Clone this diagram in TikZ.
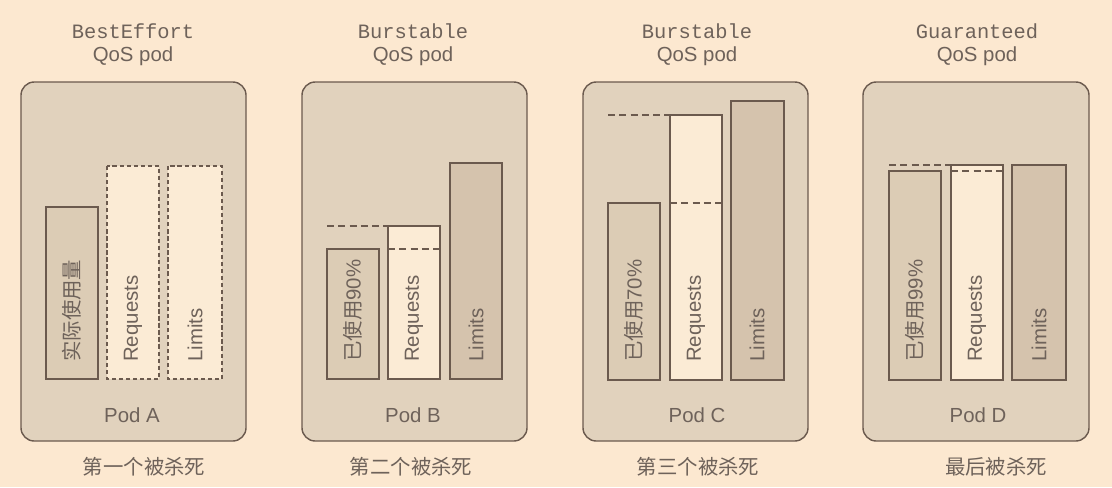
\documentclass[tikz,border=0pt]{standalone}
\usepackage{fontspec}
\setmainfont{Liberation Sans}
\newfontfamily\cjk{Noto Sans CJK SC}
\newfontfamily\mono{Liberation Mono}
\definecolor{bgpeach}{HTML}{FCE8D0}
\definecolor{podfill}{HTML}{E1D2BD}
\definecolor{usedfill}{HTML}{DCCCB5}
\definecolor{reqfill}{HTML}{FBEBD5}
\definecolor{limfill}{HTML}{D5C3AD}
\definecolor{inkline}{HTML}{6B5A4E}
\definecolor{inktext}{HTML}{6E625A}
\tikzset{
  txt/.style={font=\fontsize{14.5}{17}\selectfont, text=inktext, inner sep=0pt},
  podbox/.style={draw=inkline, line width=1pt, fill=podfill, rounded corners=0.33cm},
  usedbar/.style={draw=inkline, line width=1pt, fill=usedfill},
  reqbar/.style={draw=inkline, line width=1pt, fill=reqfill},
  limbar/.style={draw=inkline, line width=1pt, fill=limfill},
  emptybar/.style={draw=inkline, line width=1pt, fill=reqfill, dash pattern=on 3pt off 2pt},
  level/.style={draw=inkline, line width=1pt, dash pattern=on 5pt off 3pt},
  vlabel/.style={txt, rotate=90, anchor=west}
}
\begin{document}
\begin{tikzpicture}[x=0.025cm, y=-0.025cm]

\fill[bgpeach] (0, 0) rectangle (1112, 487);
\useasboundingbox (0, 0) rectangle (1112, 487);

% Pod A
\node[txt] (titleA) at (133, 31) {\mono BestEffort};
\node[txt] (qosA) at (133, 56) {QoS pod};
\draw[podbox] (21, 82) rectangle (246, 441);
\draw[usedbar] (46, 207) rectangle (98, 379);
\draw[emptybar] (107, 166) rectangle (159, 379);
\draw[emptybar] (168, 166) rectangle (222, 379);
\node[vlabel] (usedA) at (72, 362) {\cjk 实际使用量};
\node[vlabel] (reqA) at (133, 362) {Requests};
\node[vlabel] (limA) at (195, 362) {Limits};
\node[txt] (podA) at (132, 415) {Pod A};
\node[txt] (killA) at (144, 467) {\cjk 第一个被杀死};

% Pod B
\node[txt] (titleB) at (413, 31) {\mono Burstable};
\node[txt] (qosB) at (413, 56) {QoS pod};
\draw[podbox] (302, 82) rectangle (527, 441);
\draw[usedbar] (327, 249) rectangle (379, 379);
\draw[reqbar] (388, 226) rectangle (440, 379);
\draw[limbar] (450, 163) rectangle (502, 379);
\draw[level] (327, 226) -- (388, 226);
\draw[level] (388, 249) -- (440, 249);
\node[vlabel] (usedB) at (353, 362) {{\cjk 已使用}90\%};
\node[vlabel] (reqB) at (414, 362) {Requests};
\node[vlabel] (limB) at (476, 362) {Limits};
\node[txt] (podB) at (413, 415) {Pod B};
\node[txt] (killB) at (411, 467) {\cjk 第二个被杀死};

% Pod C
\node[txt] (titleC) at (697, 31) {\mono Burstable};
\node[txt] (qosC) at (697, 56) {QoS pod};
\draw[podbox] (583, 82) rectangle (808, 441);
\draw[usedbar] (608, 203) rectangle (660, 380);
\draw[reqbar] (670, 115) rectangle (722, 380);
\draw[limbar] (731, 101) rectangle (784, 380);
\draw[level] (608, 115) -- (670, 115);
\draw[level] (670, 203) -- (722, 203);
\node[vlabel] (usedC) at (634, 362) {{\cjk 已使用}70\%};
\node[vlabel] (reqC) at (696, 362) {Requests};
\node[vlabel] (limC) at (757, 362) {Limits};
\node[txt] (podC) at (697, 415) {Pod C};
\node[txt] (killC) at (698, 467) {\cjk 第三个被杀死};

% Pod D
\node[txt] (titleD) at (977, 31) {\mono Guaranteed};
\node[txt] (qosD) at (977, 56) {QoS pod};
\draw[podbox] (863, 82) rectangle (1089, 441);
\draw[usedbar] (889, 171) rectangle (941, 380);
\draw[reqbar] (951, 165) rectangle (1003, 380);
\draw[limbar] (1012, 165) rectangle (1066, 380);
\draw[level] (889, 165) -- (951, 165);
\draw[level] (951, 171) -- (1003, 171);
\node[vlabel] (usedD) at (915, 362) {{\cjk 已使用}99\%};
\node[vlabel] (reqD) at (977, 362) {Requests};
\node[vlabel] (limD) at (1039, 362) {Limits};
\node[txt] (podD) at (978, 415) {Pod D};
\node[txt] (killD) at (996, 467) {\cjk 最后被杀死};

\end{tikzpicture}
\end{document}
